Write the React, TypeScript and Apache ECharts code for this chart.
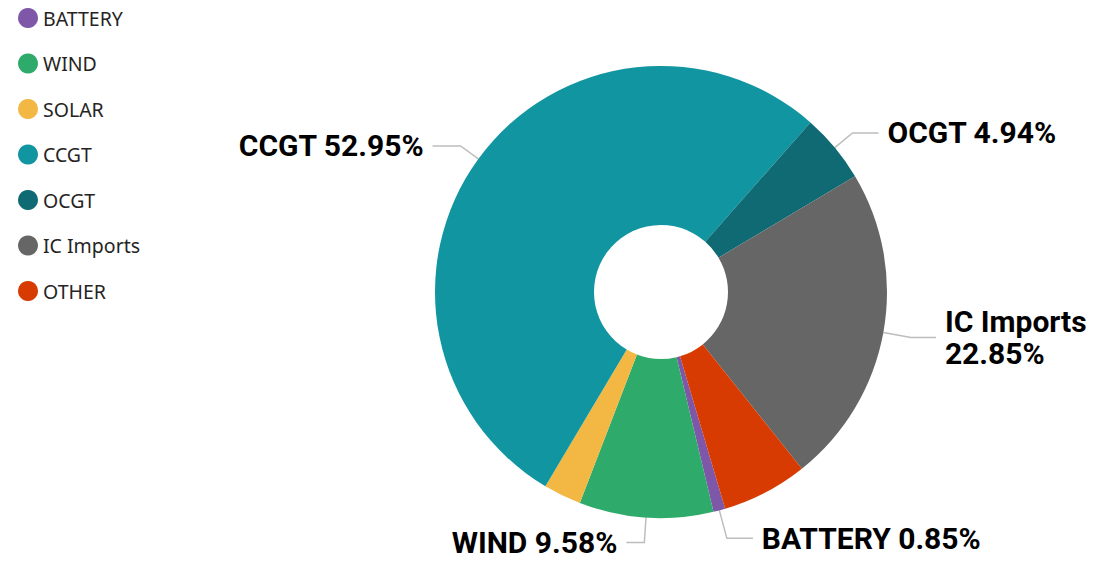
import React, { useEffect, useRef } from "react";
import * as echarts from "echarts";

const categories = ["BATTERY", "WIND", "SOLAR", "CCGT", "OCGT", "IC Imports", "OTHER"];
const shares = [0.85, 9.58, 2.7, 52.95, 4.94, 22.85, 6.13];
const colors = ["#7f57a8", "#2eab6a", "#f2b843", "#1196a1", "#0f6a73", "#666666", "#d83b01"];
const labelled = [true, true, false, true, true, true, false];
const twoLine = [false, false, false, false, false, true, false];
const lineLength = [29, 25, 22, 22, 23, 28, 22];
const lineLength2 = [26, 18, 25, 28, 26, 25, 25];

export default function App() {
  const ref = useRef<HTMLDivElement>(null);
  useEffect(() => {
    if (!ref.current) return;
    const chart = echarts.init(ref.current, null, { renderer: "svg" });
    const data = categories.map((name, i) => ({
      name,
      value: shares[i],
      itemStyle: { color: colors[i] },
      label: {
        show: labelled[i],
        formatter: twoLine[i] ? "{b}\n{d}%" : "{b} {d}%",
        lineHeight: twoLine[i] ? 32 : 27,
      },
      labelLine: { show: labelled[i], length: lineLength[i], length2: lineLength2[i] },
    }));
    chart.setOption({
      animation: false,
      legend: {
        orient: "vertical",
        left: 18,
        top: 8,
        padding: 0,
        icon: "circle",
        itemWidth: 20,
        itemHeight: 20,
        itemGap: 25.5,
        data: categories,
        textStyle: { fontFamily: "Noto Sans", fontSize: 19.5, color: "#252423" },
      },
      series: [
        {
          type: "pie",
          center: [661, 292],
          radius: [67, 226],
          startAngle: -73.5,
          clockwise: true,
          avoidLabelOverlap: false,
          data,
          label: {
            position: "outside",
            fontFamily: "Roboto",
            fontWeight: "bold",
            fontSize: 30,
            color: "#000",
            distanceToLabelLine: 9,
          },
          labelLine: {
            lineStyle: { color: "#bdbdbd", width: 1.5 },
          },
          emphasis: { disabled: true },
        },
      ],
    });
    return () => chart.dispose();
  }, []);
  return (
    <div
      ref={ref}
      style={{ position: "absolute", left: 0, top: 0, width: 1120, height: 561 }}
    />
  );
}
